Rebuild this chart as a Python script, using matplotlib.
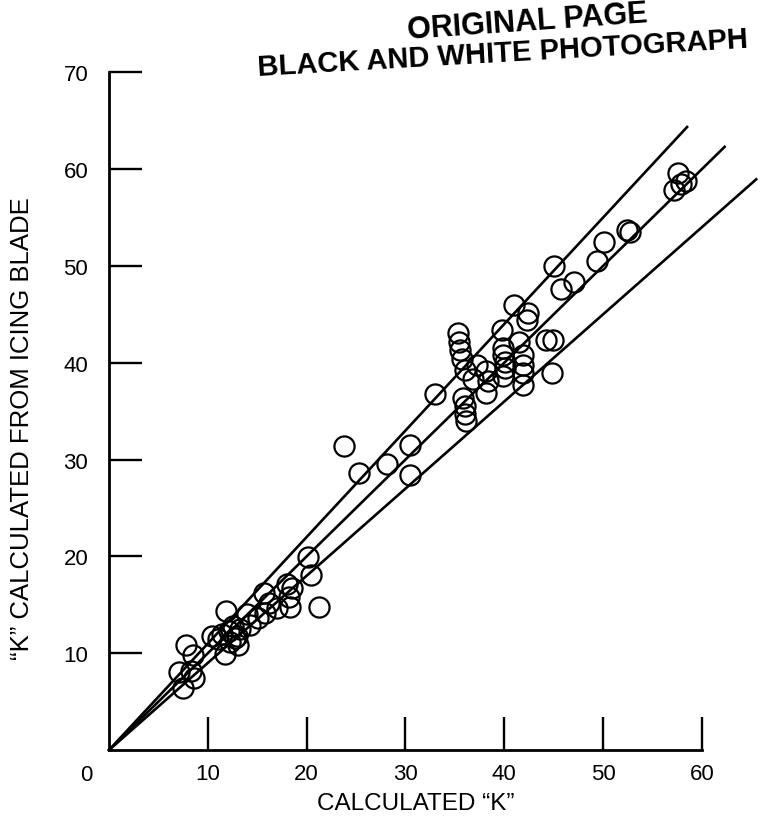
import matplotlib
matplotlib.use("Agg")
import matplotlib.pyplot as plt

plt.rcParams['font.family'] = ['Liberation Sans', 'DejaVu Sans']

# calculated "K" (x) vs "K" calculated from icing blade (y)
calc_k = [7.45, 7.1, 8.3, 8.6, 7.8, 8.5,
          10.4, 11.4, 12.1, 12.75, 13.05, 11.7, 11.8,
          12.5, 13.0, 11.0, 12.2, 13.3,
          14.0, 14.3, 15.1, 15.7, 16.2, 15.8, 17.0,
          18.0, 18.5, 18.2, 18.35, 21.2, 20.1, 20.4,
          23.8, 25.3, 28.1, 30.5, 30.5, 33.0,
          35.3, 35.4, 35.5, 35.7, 36.0, 36.8, 37.2, 38.2, 38.35, 38.2,
          35.8, 36.0, 36.0, 36.15,
          39.8, 39.9, 39.9, 40.1, 40.1, 39.9,
          41.5, 41.9, 41.9, 41.9, 41.9,
          44.2, 44.9, 44.8,
          41.0, 42.4, 42.3,
          45.0, 45.7, 47.1,
          49.4, 50.1, 52.4, 52.7,
          57.6, 58.4, 57.2, 57.9]
blade_k = [6.4, 8.1, 8.2, 7.4, 10.8, 9.8,
           11.8, 12.0, 12.3, 11.6, 10.9, 9.9, 14.4,
           12.8, 11.8, 11.5, 11.2, 12.5,
           14.0, 12.95, 13.65, 16.2, 15.2, 14.15, 14.65,
           17.2, 16.7, 15.8, 14.8, 14.8, 19.9, 18.05,
           31.4, 28.6, 29.5, 31.5, 28.4, 36.8,
           43.1, 42.1, 41.3, 40.4, 39.3, 38.3, 39.8, 39.1, 38.1, 36.9,
           36.4, 35.5, 34.7, 34.0,
           43.4, 41.5, 40.8, 40.1, 39.5, 38.6,
           42.1, 40.8, 39.8, 38.9, 37.7,
           42.3, 42.3, 38.9,
           46.0, 45.1, 44.4,
           50.0, 47.6, 48.3,
           50.5, 52.5, 53.7, 53.5,
           59.6, 58.8, 57.8, 58.5]

# reference lines through the origin: y = slope * x
line_slopes = [1.1, 1.0, 0.9]
line_ends = [58.5, 62.3, 65.5]

x_ticks = [10, 20, 30, 40, 50, 60]
y_ticks = [10, 20, 30, 40, 50, 60, 70]

fig = plt.figure(figsize=(7.64, 8.20), dpi=100)
ax = fig.add_axes([0.1427, 0.0841, 0.776, 0.8265])

for s, xe in zip(line_slopes, line_ends):
    ax.plot([0, xe], [0, s * xe], color='black', lw=1.9, clip_on=False, zorder=2)

ax.plot(calc_k, blade_k, 'o', ms=14.5, mfc='none', mec='black', mew=1.6,
        clip_on=False, zorder=3)

ax.set_xlim(0, 60)
ax.set_ylim(0, 70)
ax.spines['top'].set_visible(False)
ax.spines['right'].set_visible(False)
ax.spines['left'].set_linewidth(2.0)
ax.spines['bottom'].set_linewidth(2.0)

ax.set_xticks(x_ticks)
ax.set_xticklabels([str(v) for v in x_ticks])
ax.set_yticks(y_ticks)
ax.set_yticklabels([str(v) for v in y_ticks])
ax.tick_params(axis='x', direction='in', length=24, width=1.7, pad=9, labelsize=16)
ax.tick_params(axis='y', direction='in', length=24, width=1.7, pad=15, labelsize=16)

ax.annotate('0', xy=(0, 0), xytext=(-16, -10), textcoords='offset points',
            ha='center', va='top', fontsize=16)

ax.set_xlabel('CALCULATED \u201cK\u201d', fontsize=17.5)
ax.xaxis.set_label_coords(0.517, -0.062)
ax.set_ylabel('\u201cK\u201d CALCULATED FROM ICING BLADE', fontsize=18.5)
ax.yaxis.set_label_coords(-0.126, 0.475)

# stamp on the scanned page
fig.text(0.690, 0.973, 'ORIGINAL PAGE', fontsize=22, fontweight='bold',
         rotation=4, ha='center', va='center')
fig.text(0.658, 0.934, 'BLACK AND WHITE PHOTOGRAPH', fontsize=21, fontweight='bold',
         rotation=3.3, ha='center', va='center')

fig.savefig('out.png', dpi=100)
